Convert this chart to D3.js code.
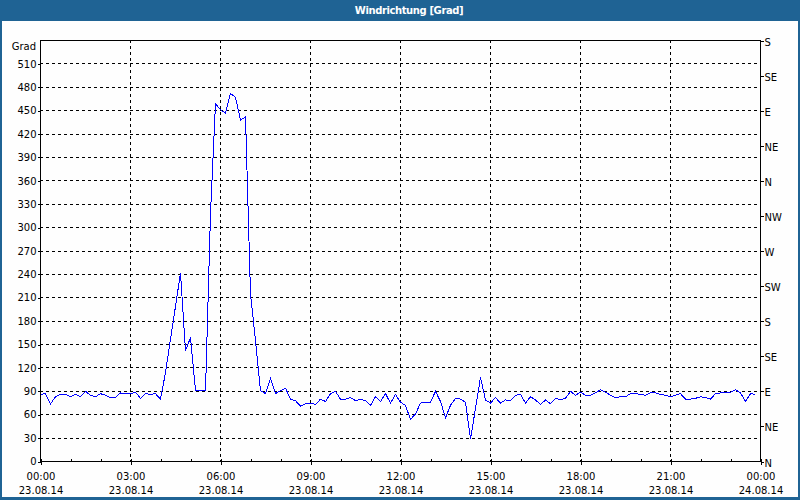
<!DOCTYPE html>
<html>
<head>
<meta charset="utf-8">
<script src="https://cdn.jsdelivr.net/npm/d3@7"></script>
<style>
  body { margin: 0; background: #fff; }
  text { font-family: "DejaVu Sans", sans-serif; font-size: 10px; fill: #000; }
  .grid line { stroke: #000; stroke-dasharray: 3,3; shape-rendering: crispEdges; }
  .axis line { stroke: #000; shape-rendering: crispEdges; }
  .axis path { display: none; }
</style>
</head>
<body>
<div id="viz"></div>
<script>
/***************** Data *********************/
var title = "Windrichtung [Grad]";
var unit = "Grad";
var startTime = Date.UTC(2014, 7, 23, 0, 0);
var endTime = Date.UTC(2014, 7, 24, 0, 0);
var stepMinutes = 10;
// wind direction, one value per 10 minutes from 00:00
var direction = [
  86, 87, 74, 83, 86, 86, 83, 86, 83, 90, 85, 83,
  87, 85, 82, 82, 88, 87, 87, 89, 81, 87, 86, 87,
  80, 114, 157, 199, 242, 142, 159, 91, 91, 91, 318, 459,
  451, 447, 472, 467, 438, 442, 215, 155, 91, 87, 106, 87,
  91, 94, 80, 78, 71, 74, 75, 73, 80, 77, 87, 90,
  80, 80, 82, 78, 80, 78, 72, 83, 77, 87, 75, 86,
  76, 72, 54, 61, 75, 76, 76, 90, 77, 56, 72, 81,
  80, 76, 29, 68, 108, 79, 75, 82, 75, 79, 78, 85,
  86, 75, 83, 79, 73, 79, 74, 81, 79, 81, 90, 85,
  89, 85, 85, 88, 92, 89, 85, 82, 83, 83, 87, 87,
  86, 85, 88, 88, 86, 85, 83, 85, 87, 80, 80, 81,
  83, 82, 80, 87, 88, 88, 89, 92, 88, 77, 87, 86
];
var gradTicks = [0, 30, 60, 90, 120, 150, 180, 210, 240, 270, 300, 330, 360, 390, 420, 450, 480, 510];
var compassTicks = [0, 45, 90, 135, 180, 225, 270, 315, 360, 405, 450, 495, 540];
var compassLabels = ["N", "NE", "E", "SE", "S", "SW", "W", "NW", "N", "NE", "E", "SE", "S"];
var yMax = 540;

/***************** Layout *********************/
var W = 800, H = 500,
    frame_color = "#1f6394",
    line_color = "#0000ff";
var plot = {left: 40, top: 40, right: 760, bottom: 461};

var svg = d3.select("#viz")
    .append("svg")
    .attr("width", W)
    .attr("height", H);

svg.append("rect").attr("width", W).attr("height", H).attr("fill", frame_color);
svg.append("rect")
    .attr("x", 2).attr("y", 21)
    .attr("width", W - 4).attr("height", H - 24)
    .attr("fill", "#fefefe");

svg.append("text")
    .attr("x", 409).attr("y", 14)
    .attr("text-anchor", "middle")
    .style("font-weight", "bold")
    .style("letter-spacing", "-0.4px")
    .style("fill", "#fff")
    .text(title);

/* scales */
var x = d3.scaleUtc().domain([startTime, endTime]).range([plot.left, plot.right]);
var y = d3.scaleLinear().domain([0, yMax]).range([plot.bottom, plot.top]);

var majorTimes = d3.utcHour.every(3).range(new Date(startTime), new Date(endTime + 1));
var hourTimes = d3.utcHour.range(new Date(startTime), new Date(endTime + 1));

/* dashed grid */
var grid = svg.append("g").attr("class", "grid");
grid.selectAll(".hgrid")
    .data(gradTicks.filter(function(d) { return d > 0; }))
    .enter().append("line")
    .attr("x1", plot.left).attr("x2", plot.right)
    .attr("y1", function(d) { return Math.round(y(d)) + 0.5; })
    .attr("y2", function(d) { return Math.round(y(d)) + 0.5; });
grid.selectAll(".vgrid")
    .data(majorTimes.slice(1, -1))
    .enter().append("line")
    .attr("x1", function(d) { return x(d) + 0.5; })
    .attr("x2", function(d) { return x(d) + 0.5; })
    .attr("y1", plot.top).attr("y2", plot.bottom);

/* data line */
var points = direction.map(function(v, i) {
  return [new Date(startTime + i * stepMinutes * 60000), v];
});
svg.append("path")
    .datum(points)
    .attr("fill", "none")
    .attr("stroke", line_color)
    .attr("stroke-width", 1)
    .style("shape-rendering", "crispEdges")
    .attr("d", d3.line()
        .x(function(d) { return x(d[0]) + 0.5; })
        .y(function(d) { return y(d[1]) + 0.5; }));

/* plot frame */
svg.append("rect")
    .attr("x", plot.left + 0.5).attr("y", plot.top + 0.5)
    .attr("width", plot.right - plot.left).attr("height", plot.bottom - plot.top)
    .attr("fill", "none").attr("stroke", "#000")
    .style("shape-rendering", "crispEdges");

/* left axis */
svg.append("g")
    .attr("class", "axis")
    .attr("transform", "translate(" + (plot.left + 0.5) + ",0.5)")
    .call(d3.axisLeft(y).tickValues(gradTicks).tickSize(3).tickPadding(1));

svg.append("text")
    .attr("x", 36).attr("y", 50)
    .attr("text-anchor", "end")
    .text(unit);

/* right axis */
svg.append("g")
    .attr("class", "axis")
    .attr("transform", "translate(" + (plot.right + 0.5) + ",0.5)")
    .call(d3.axisRight(y).tickValues(compassTicks).tickSize(3).tickPadding(1)
        .tickFormat(function(d, i) { return compassLabels[i]; }))
    .selectAll("text").attr("dy", "0.45em");

/* bottom axis, hour ticks inside */
svg.append("g")
    .attr("class", "axis")
    .attr("transform", "translate(0.5," + (plot.bottom + 0.5) + ")")
    .call(d3.axisBottom(x).tickValues(hourTimes).tickSize(-3).tickFormat(""));

var timeFmt = d3.utcFormat("%H:%M"),
    dateFmt = d3.utcFormat("%d.%m.%y");
var bottom = svg.append("g")
    .attr("class", "axis")
    .attr("transform", "translate(0.5," + (plot.bottom + 0.5) + ")")
    .call(d3.axisBottom(x).tickValues(majorTimes).tickSize(3));

bottom.selectAll(".tick text")
    .attr("y", null).attr("dy", null)
    .text(null)
    .each(function(d) {
      var t = d3.select(this);
      t.append("tspan").attr("x", 0).attr("y", 18).text(timeFmt(d));
      t.append("tspan").attr("x", 0).attr("y", 32).text(dateFmt(d));
    });
</script>
</body>
</html>
